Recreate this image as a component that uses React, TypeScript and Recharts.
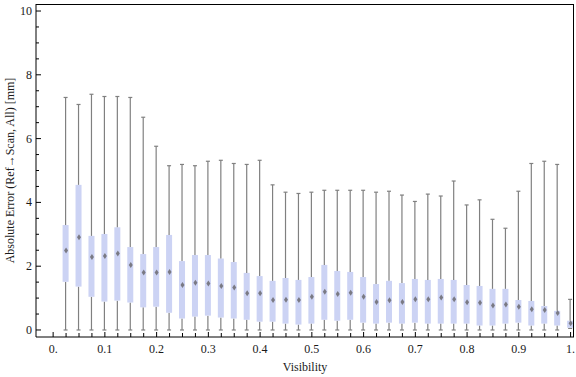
import React from 'react'
import {
  ComposedChart,
  Bar,
  Scatter,
  XAxis,
  YAxis,
} from 'recharts'

if (typeof document !== 'undefined') document.body.style.margin = '0'

const visibility = [
  0.025, 0.05, 0.075, 0.1, 0.125, 0.15, 0.175, 0.2, 0.225, 0.25,
  0.275, 0.3, 0.325, 0.35, 0.375, 0.4, 0.425, 0.45, 0.475, 0.5,
  0.525, 0.55, 0.575, 0.6, 0.625, 0.65, 0.675, 0.7, 0.725, 0.75,
  0.775, 0.8, 0.825, 0.85, 0.875, 0.9, 0.925, 0.95, 0.975, 1.0,
]
const mins = [
  0, 0, 0, 0, 0, 0, 0, 0, 0, 0,
  0, 0, 0, 0, 0, 0, 0, 0, 0, 0,
  0, 0, 0, 0, 0, 0, 0, 0, 0, 0,
  0, 0, 0, 0, 0, 0, 0, 0, 0, 0.05,
]
const q1s = [
  1.51, 1.36, 1.04, 0.89, 0.92, 0.86, 0.71, 0.73, 0.54, 0.36,
  0.42, 0.45, 0.39, 0.36, 0.32, 0.26, 0.26, 0.2, 0.17, 0.2,
  0.32, 0.29, 0.32, 0.23, 0.2, 0.23, 0.2, 0.23, 0.2, 0.2,
  0.2, 0.2, 0.14, 0.14, 0.2, 0.23, 0.14, 0.2, 0.14, 0.07,
]
const medians = [
  2.49, 2.91, 2.29, 2.32, 2.4, 2.04, 1.8, 1.8, 1.82, 1.41,
  1.48, 1.46, 1.38, 1.33, 1.15, 1.15, 0.94, 0.95, 0.94, 1.04,
  1.2, 1.13, 1.17, 1.04, 0.88, 0.93, 0.88, 0.96, 0.96, 1.02,
  0.96, 0.87, 0.85, 0.77, 0.8, 0.73, 0.65, 0.63, 0.53, 0.21,
]
const q3s = [
  3.29, 4.55, 2.95, 3.01, 3.22, 2.6, 2.38, 2.6, 2.98, 2.16,
  2.35, 2.35, 2.24, 2.13, 1.79, 1.69, 1.54, 1.63, 1.57, 1.66,
  2.04, 1.85, 1.82, 1.66, 1.44, 1.54, 1.47, 1.6, 1.57, 1.6,
  1.57, 1.41, 1.38, 1.29, 1.29, 0.94, 0.91, 0.75, 0.6, 0.29,
]
const maxes = [
  7.29, 7.07, 7.39, 7.32, 7.32, 7.29, 6.67, 5.76, 5.15, 5.19,
  5.15, 5.29, 5.32, 5.22, 5.19, 5.32, 4.55, 4.32, 4.28, 4.32,
  4.38, 4.38, 4.38, 4.38, 4.32, 4.35, 4.23, 4.03, 4.26, 4.2,
  4.67, 3.92, 4.08, 3.47, 3.19, 4.35, 5.22, 5.29, 5.19, 0.96,
]

const xMajor = [0, 0.1, 0.2, 0.3, 0.4, 0.5, 0.6, 0.7, 0.8, 0.9, 1.0]
const xLabels = ['0.', '0.1', '0.2', '0.3', '0.4', '0.5', '0.6', '0.7', '0.8', '0.9', '1.']
const xTicks = [0, ...visibility]
const yTicks = [0, 0.5, 1, 1.5, 2, 2.5, 3, 3.5, 4, 4.5, 5, 5.5, 6, 6.5, 7, 7.5, 8, 8.5, 9, 9.5, 10]
const yLabels = ['0', '2', '4', '6', '8', '10']

// plot range, with Mathematica-like padding around the data
const X_DOMAIN = [-0.0331, 1.0066]
const Y_DOMAIN = [-0.22, 10.22]

const data = visibility.map((x, i) => ({
  x,
  base: mins[i],
  lower: q1s[i] - mins[i],
  box: q3s[i] - q1s[i],
  upper: maxes[i] - q3s[i],
  median: medians[i],
}))

const FONT = 'Liberation Serif, Times New Roman, serif'
const WHISKER = '#808080'
const BOX = '#ccd3f4'

const majorIndex = (v: number) => xMajor.findIndex((m) => Math.abs(m - v) < 1e-6)
const isYMajor = (v: number) => Math.abs(v / 2 - Math.round(v / 2)) < 1e-6

const BottomTick = (p: any) => {
  const idx = majorIndex(p.payload.value)
  return (
    <g>
      <line x1={p.x} x2={p.x} y1={p.y} y2={p.y - (idx >= 0 ? 5 : 4)} stroke="#000" />
      {idx >= 0 && (
        <text x={p.x} y={p.y + 16} textAnchor="middle" fontFamily={FONT} fontSize={12} fill="#1a1a1a">
          {xLabels[idx]}
        </text>
      )}
    </g>
  )
}

const LeftTick = (p: any) => {
  const v = p.payload.value
  const major = isYMajor(v)
  return (
    <g>
      <line x1={p.x} x2={p.x + (major ? 5 : 3)} y1={p.y} y2={p.y} stroke="#000" />
      {major && (
        <text x={p.x - 4} y={p.y + 4} textAnchor="end" fontFamily={FONT} fontSize={12} fill="#1a1a1a">
          {yLabels[Math.round(v / 2)]}
        </text>
      )}
    </g>
  )
}

const Empty = () => <g />

const LowerWhisker = (p: any) => {
  const cx = p.x + p.width / 2
  const bottom = p.y + p.height
  return (
    <g stroke={WHISKER} strokeWidth={1.2}>
      <line x1={cx} x2={cx} y1={p.y} y2={bottom} />
      <line x1={cx - 2} x2={cx + 2} y1={bottom} y2={bottom} />
    </g>
  )
}

const UpperWhisker = (p: any) => {
  const cx = p.x + p.width / 2
  return (
    <g stroke={WHISKER} strokeWidth={1.2}>
      <line x1={cx} x2={cx} y1={p.y} y2={p.y + p.height} />
      <line x1={cx - 2} x2={cx + 2} y1={p.y} y2={p.y} />
    </g>
  )
}

const BoxShape = (p: any) => {
  const cx = p.x + p.width / 2
  return <rect x={cx - 3} y={p.y} width={6} height={p.height} fill={BOX} />
}

const MedianMark = (p: any) => {
  const { cx, cy } = p
  return (
    <path
      d={`M${cx},${cy - 3} L${cx + 2},${cy} L${cx},${cy + 3} L${cx - 2},${cy} Z`}
      fill="#7a7a84"
    />
  )
}

export default function App() {
  return (
    <div style={{ position: 'relative', width: 576, height: 377 }}>
      <ComposedChart
        width={576}
        height={377}
        data={data}
        margin={{ top: 4, right: 2, bottom: 0, left: 0 }}
        barSize={6}
      >
        <XAxis
          type="number"
          dataKey="x"
          domain={X_DOMAIN}
          allowDataOverflow
          ticks={xTicks}
          interval={0}
          tickSize={0}
          tickMargin={0}
          tick={BottomTick}
          height={40}
          axisLine={{ stroke: '#000' }}
          label={{
            value: 'Visibility',
            position: 'insideBottom',
            offset: 6,
            style: { fontFamily: FONT, fontSize: 12, fill: '#1a1a1a' },
          }}
        />
        <YAxis
          type="number"
          domain={Y_DOMAIN}
          allowDataOverflow
          ticks={yTicks}
          interval={0}
          tickSize={0}
          tickMargin={0}
          tick={LeftTick}
          width={36}
          axisLine={{ stroke: '#000' }}
          label={{
            value: 'Absolute Error (Ref\u2192Scan, All) [mm]',
            angle: -90,
            position: 'insideLeft',
            offset: 10,
            style: { textAnchor: 'middle', fontFamily: FONT, fontSize: 12, fill: '#1a1a1a' },
          }}
        />
        <Bar dataKey="base" stackId="s" shape={Empty} isAnimationActive={false} />
        <Bar dataKey="lower" stackId="s" shape={LowerWhisker} isAnimationActive={false} />
        <Bar dataKey="box" stackId="s" shape={BoxShape} isAnimationActive={false} />
        <Bar dataKey="upper" stackId="s" shape={UpperWhisker} isAnimationActive={false} />
        <Scatter dataKey="median" shape={MedianMark} isAnimationActive={false} />
      </ComposedChart>
      {/* top and right edges of the frame */}
      <div
        style={{
          position: 'absolute',
          left: 36,
          top: 4,
          width: 538,
          height: 333,
          boxSizing: 'border-box',
          borderTop: '1px solid #000',
          borderRight: '1px solid #000',
          pointerEvents: 'none',
        }}
      />
    </div>
  )
}
